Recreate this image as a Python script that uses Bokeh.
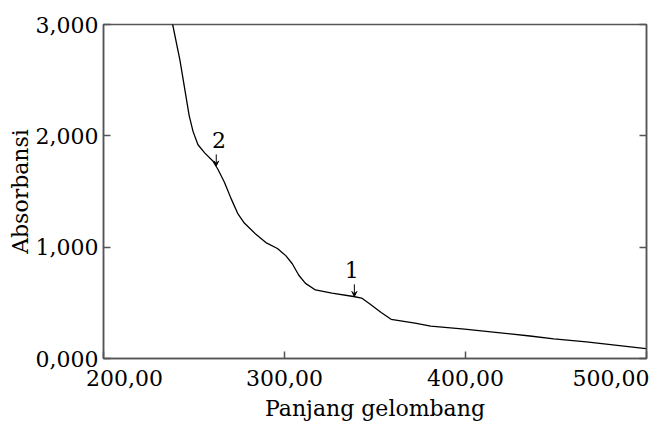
from bokeh.plotting import figure
from bokeh.models import (Range1d, LinearAxis, FixedTicker, CustomJSTickFormatter,
                          Arrow, VeeHead, ColumnDataSource, LabelSet)
from bokeh.core.properties import value
from bokeh.embed import file_html
from bokeh.resources import INLINE

# ---- data ----
wavelength = [236.6, 238.2, 242.2, 244.9, 247.3, 249.5, 252.2, 255.9, 260.4, 263.2,
              266.8, 270.5, 274.1, 277.8, 284.2, 289.7, 296.1, 300.7, 304.3, 307.9,
              311.6, 317.1, 326.2, 338.1, 342.6, 347.2, 353.4, 358.9, 372.1, 380.8,
              399.5, 435.6, 448.8, 466.8, 499.7]
absorbance = [3.12, 3.000, 2.683, 2.419, 2.184, 2.038, 1.920, 1.847, 1.774, 1.700,
              1.583, 1.436, 1.304, 1.217, 1.115, 1.041, 0.988, 0.924, 0.851, 0.748,
              0.675, 0.616, 0.587, 0.557, 0.543, 0.490, 0.413, 0.352, 0.317, 0.290,
              0.264, 0.202, 0.176, 0.150, 0.088]

x_ticks = [200, 300, 400, 500]
y_ticks = [0, 1, 2, 3]

peak_names = ["1", "2"]
peak_label_x = [337.2, 263.8]
peak_label_y = [0.724, 1.89]
peak_arrow_x = [338.6, 262.3]
peak_arrow_top = [0.666, 1.833]
peak_arrow_bottom = [0.557, 1.730]

FONT = "DejaVu Serif"
FS = "22px"
GRAY = "#555555"
NB = "\u00a0"

p = figure(width=649, height=423, x_range=Range1d(200, 500), y_range=Range1d(0, 3),
           output_backend="svg", toolbar_location=None,
           min_border_left=103, min_border_top=24, min_border_right=3, min_border_bottom=60)
p.background_fill_color = "white"
p.border_fill_color = "white"
p.outline_line_color = GRAY
p.outline_line_width = 1.5
p.xgrid.visible = False
p.ygrid.visible = False

p.line(wavelength, absorbance, line_color="black", line_width=1.3)

# axes
xa = p.xaxis[0]
xa.ticker = FixedTicker(ticks=x_ticks)
xa.formatter = CustomJSTickFormatter(code="return tick.toFixed(2).replace('.', ',');")
first = f"{x_ticks[0]:.2f}".replace(".", ",")
xa.major_label_overrides = {x_ticks[0]: NB * 6 + first}
xa.axis_label = "Panjang gelombang"

ya = p.yaxis[0]
ya.ticker = FixedTicker(ticks=y_ticks)
ya.formatter = CustomJSTickFormatter(code="return tick.toFixed(3).replace('.', ',');")
ya.axis_label = "Absorbansi"

for ax in (xa, ya):
    ax.major_tick_in = 7
    ax.major_tick_out = 0
    ax.minor_tick_line_color = None
    ax.axis_line_color = GRAY
    ax.axis_line_width = 1.5
    ax.major_tick_line_color = GRAY
    ax.major_tick_line_width = 1.5
    ax.major_label_text_font = FONT
    ax.major_label_text_font_size = FS
    ax.major_label_text_color = "black"
    ax.axis_label_text_font = FONT
    ax.axis_label_text_font_size = FS
    ax.axis_label_text_font_style = "normal"
    ax.axis_label_text_color = "black"

xa.major_label_standoff = 7
xa.axis_label_standoff = 2
ya.major_label_standoff = 5
ya.axis_label_standoff = 0

ra = LinearAxis(ticker=FixedTicker(ticks=y_ticks),
                formatter=CustomJSTickFormatter(code="return '';"))
ra.major_tick_in = 7
ra.major_tick_out = 0
ra.minor_tick_line_color = None
ra.axis_line_color = GRAY
ra.axis_line_width = 1.5
ra.major_tick_line_color = GRAY
ra.major_tick_line_width = 1.5
ra.major_label_standoff = 0
ra.major_label_text_font_size = "1px"
p.add_layout(ra, "right")

# peak markers
lab = ColumnDataSource(dict(x=peak_label_x, y=peak_label_y, t=peak_names))
arr = ColumnDataSource(dict(x=peak_arrow_x, y0=peak_arrow_top, y1=peak_arrow_bottom))
p.add_layout(LabelSet(x="x", y="y", text="t", source=lab, text_align="center",
                      text_baseline="alphabetic", text_font=value(FONT),
                      text_font_size=value(FS), text_color="black"))
p.add_layout(Arrow(x_start="x", y_start="y0", x_end="x", y_end="y1", source=arr,
                   line_color="black", line_width=1,
                   end=VeeHead(size=5, line_color="black", line_width=1)))

open("out.html", "w").write(file_html(p, INLINE))
